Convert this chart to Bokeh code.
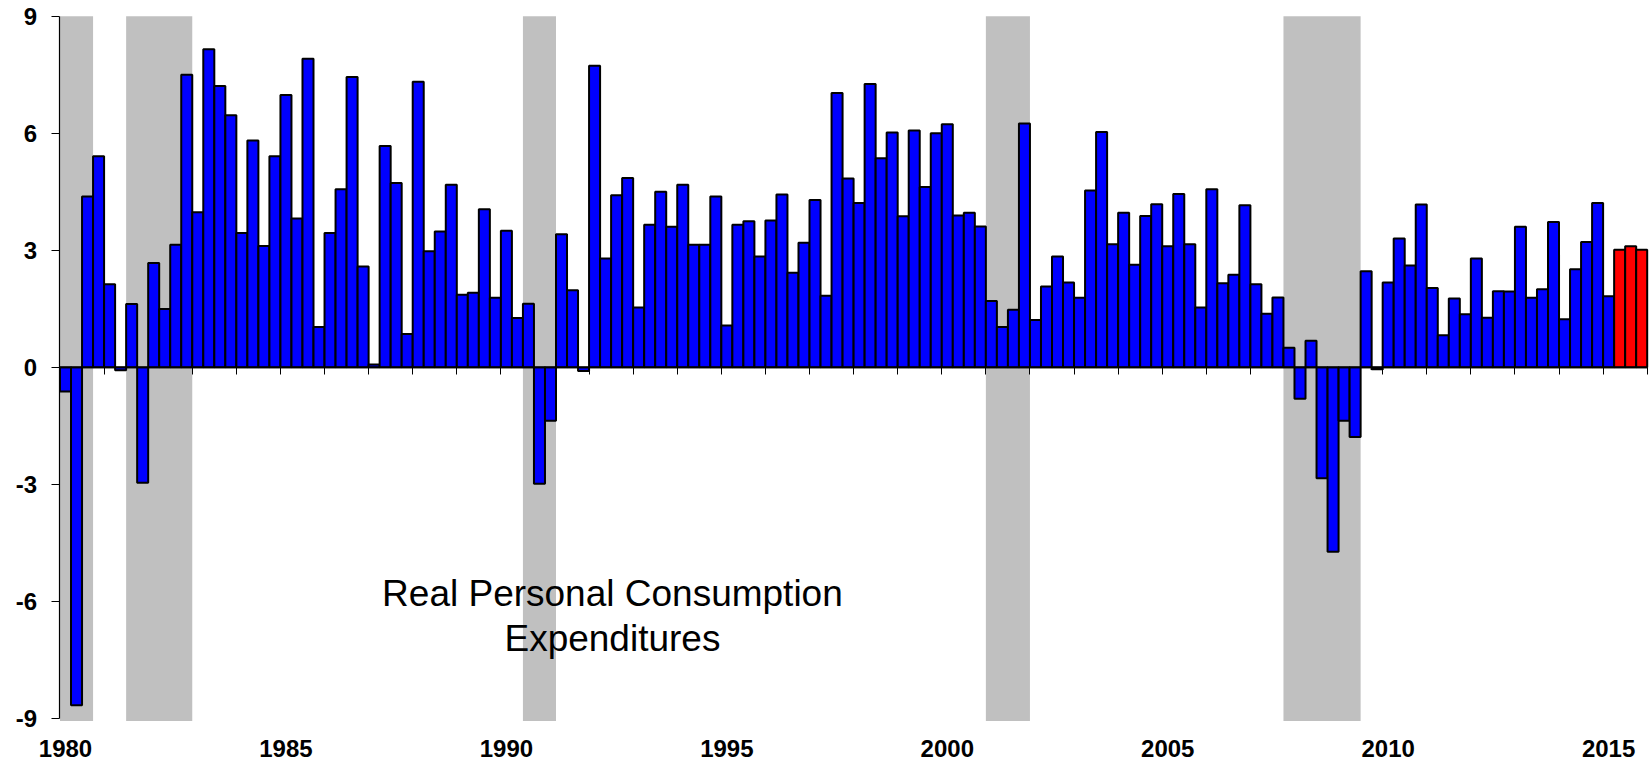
from bokeh.plotting import figure
from bokeh.models import LinearAxis, FixedTicker, Range1d, ColumnDataSource, Label
from bokeh.embed import file_html
from bokeh.resources import INLINE

# ---------------- data ----------------
start_year = 1980
quarters_per_year = 4

# Real PCE, quarterly % change (annual rate), 1980Q1 .. 2015Q1
actual_growth = [
    -0.62, -8.67, 4.38, 5.41,      # 1980
    2.13, -0.08, 1.62, -2.96,      # 1981
    2.67, 1.49, 3.14, 7.50,        # 1982
    3.97, 8.15, 7.21, 6.46,        # 1983
    3.44, 5.81, 3.11, 5.41,        # 1984
    6.98, 3.81, 7.91, 1.03,        # 1985
    3.44, 4.56, 7.44, 2.58,        # 1986
    0.07, 5.67, 4.72, 0.85,        # 1987
    7.32, 2.97, 3.48, 4.68,        # 1988
    1.86, 1.91, 4.05, 1.78,        # 1989
    3.50, 1.26, 1.63, -2.99,       # 1990
    -1.37, 3.41, 1.97, -0.10,      # 1991
    7.73, 2.79, 4.41, 4.85,        # 1992
    1.53, 3.65, 4.50, 3.60,        # 1993
    4.68, 3.14, 3.14, 4.38,        # 1994
    1.07, 3.65, 3.74, 2.84,        # 1995
    3.76, 4.43, 2.42, 3.19,        # 1996
    4.29, 1.83, 7.03, 4.84,        # 1997
    4.21, 7.26, 5.36, 6.02,        # 1998
    3.87, 6.07, 4.62, 6.00,        # 1999
    6.23, 3.89, 3.96, 3.61,        # 2000
    1.70, 1.03, 1.47, 6.25,        # 2001
    1.21, 2.07, 2.84, 2.17,        # 2002
    1.78, 4.53, 6.03, 3.15,        # 2003
    3.96, 2.63, 3.88, 4.18,        # 2004
    3.10, 4.44, 3.15, 1.53,        # 2005
    4.56, 2.15, 2.37, 4.15,        # 2006
    2.13, 1.37, 1.79, 0.50,        # 2007
    -0.81, 0.68, -2.85, -4.73,     # 2008
    -1.37, -1.79, 2.46, -0.05,     # 2009
    2.17, 3.30, 2.61, 4.17,        # 2010
    2.03, 0.82, 1.76, 1.36,        # 2011
    2.79, 1.27, 1.95, 1.94,        # 2012
    3.60, 1.78, 2.00, 3.72,        # 2013
    1.23, 2.51, 3.21, 4.21,        # 2014
    1.82,                          # 2015Q1
]
# forecast 2015Q2 .. 2015Q4
forecast_growth = [3.01, 3.10, 3.01]

recession_start = [1980.0, 1981.5, 1990.5, 2001.0, 2007.75]
recession_end = [1980.75, 1983.0, 1991.25, 2002.0, 2009.5]

y_ticks = [-9, -6, -3, 0, 3, 6, 9]
label_years = [1980, 1985, 1990, 1995, 2000, 2005, 2010, 2015]
end_year = 2016

title_lines = ["Real Personal Consumption", "Expenditures"]

# ---------------- derived ----------------
qw = 1.0 / quarters_per_year


def centers(offset, n):
    return [start_year + (offset + k + 0.5) * qw for k in range(n)]


act_src = ColumnDataSource(dict(x=centers(0, len(actual_growth)), top=actual_growth))
fc_src = ColumnDataSource(dict(x=centers(len(actual_growth), len(forecast_growth)),
                               top=forecast_growth))
rec_src = ColumnDataSource(dict(left=recession_start, right=recession_end))

FONT = "Liberation Sans"
W, H = 1650, 764

# the frame fills the whole canvas; axes are placed at fixed data locations
p = figure(width=W, height=H, output_backend="svg", toolbar_location=None,
           x_range=Range1d(1978.6505, 2016.0748), y_range=Range1d(-10.187, 9.4026),
           x_axis_location=None, y_axis_location=None,
           min_border_left=0, min_border_right=0, min_border_top=0, min_border_bottom=0,
           background_fill_color="white", border_fill_color="white")
p.outline_line_color = None
p.xgrid.visible = False
p.ygrid.visible = False

# recession shading
p.quad(left="left", right="right", bottom=-9.07, top=9.0, source=rec_src,
       fill_color="#C0C0C0", line_color=None)

# bars
p.vbar(x="x", top="top", bottom=0, width=qw, source=act_src,
       fill_color="#0000FF", line_color="black", line_width=2)
p.vbar(x="x", top="top", bottom=0, width=qw, source=fc_src,
       fill_color="#FF0000", line_color="black", line_width=2)

# y axis at x = 1980
yax = LinearAxis(fixed_location=start_year, ticker=FixedTicker(ticks=y_ticks),
                 bounds=(y_ticks[0], y_ticks[-1]),
                 major_label_overrides={t: str(t) for t in y_ticks})
yax.axis_line_color = "black"
yax.axis_line_width = 1.2
yax.major_tick_line_color = "black"
yax.major_tick_out = 8
yax.major_tick_in = 0
yax.minor_tick_line_color = None
yax.major_label_standoff = 15
yax.major_label_text_font = FONT
yax.major_label_text_font_style = "bold"
yax.major_label_text_font_size = "24px"
yax.major_label_text_color = "black"
p.add_layout(yax, "left")

# zero line with yearly tick marks
zax = LinearAxis(fixed_location=0, bounds=(start_year, end_year),
                 ticker=FixedTicker(ticks=list(range(start_year, end_year + 1))))
zax.axis_line_color = "black"
zax.axis_line_width = 1.5
zax.major_tick_line_color = "black"
zax.major_tick_out = 7
zax.major_tick_in = 0
zax.minor_tick_line_color = None
zax.major_label_text_color = None
zax.major_label_text_font_size = "1px"
p.add_layout(zax, "below")

# year labels at the bottom, centred on each year's first quarter
label_pos = [y + qw / 2 for y in label_years]
lax = LinearAxis(fixed_location=y_ticks[0], ticker=FixedTicker(ticks=label_pos),
                 major_label_overrides={pos: str(y) for pos, y in zip(label_pos, label_years)})
lax.axis_line_color = None
lax.major_tick_line_color = None
lax.minor_tick_line_color = None
lax.major_tick_out = 0
lax.major_tick_in = 0
lax.major_label_standoff = 22
lax.major_label_text_font = FONT
lax.major_label_text_font_style = "bold"
lax.major_label_text_font_size = "24px"
lax.major_label_text_color = "black"
p.add_layout(lax, "below")

# chart title inside plot
title_x = 1992.53
for txt, yb in zip(title_lines, [-5.79, -6.95]):
    p.add_layout(Label(x=title_x, y=yb, text=txt, text_align="center",
                       text_baseline="alphabetic", text_font=FONT,
                       text_font_size="37px", text_color="black"))

open("out.html", "w").write(file_html(p, INLINE))
